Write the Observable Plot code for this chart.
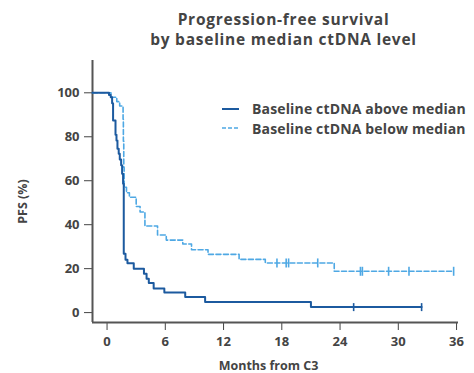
<!DOCTYPE html>
<html><head><meta charset="utf-8">
<script src="https://cdn.jsdelivr.net/npm/d3@7"></script>
<script src="https://cdn.jsdelivr.net/npm/@observablehq/plot@0.6"></script>
<style>
body{margin:0;background:#fff;}
#wrap{position:relative;width:474px;height:373px;}
#legend{position:absolute;left:222px;top:98.75px;font-family:"Open Sans",sans-serif;font-weight:bold;font-size:14px;letter-spacing:0.15px;color:#444;}
.row{display:flex;align-items:center;height:19.5px;white-space:nowrap;}
.row svg{margin-right:13px;display:block}
</style></head><body><div id="wrap"></div>
<script>
const titleLines = ["Progression-free survival", "by baseline median ctDNA level"];
const xLabel = "Months from C3";
const yLabel = "PFS (%)";
const seriesNames = ["Baseline ctDNA above median", "Baseline ctDNA below median"];
const xTicks = [0, 6, 12, 18, 24, 30, 36];
const yTicks = [0, 20, 40, 60, 80, 100];
const xDomain = [-1.5, 36.2];
const yDomain = [-4.5, 114.7];

const aboveMonths = [-1.5, 0.2, 0.38, 0.52, 0.62, 0.87, 0.97, 1.07, 1.2, 1.31, 1.45, 1.55, 1.65, 1.72, 1.9, 2.1, 2.75, 3.8, 4.07, 4.3, 4.8, 5.9, 8.05, 10.1, 21.0, 32.4];
const abovePFS    = [100, 99, 98, 95.3, 87.4, 80.9, 78.3, 74.5, 72.3, 69.7, 67, 63.2, 58.6, 26.8, 24, 22.5, 20, 17.7, 15.4, 13.5, 11.0, 9.2, 7.1, 4.8, 2.5, 2.5];
const aboveCensorMonths = [25.4, 32.4];
const aboveCensorPFS    = [2.5, 2.5];

const belowMonths = [-1.5, 0.4, 1.0, 1.3, 1.65, 1.68, 1.72, 1.76, 2.0, 2.3, 3.0, 3.4, 3.9, 5.2, 6.1, 7.8, 8.7, 10.4, 13.6, 16.3, 23.4, 35.7];
const belowPFS    = [100, 98, 96, 94, 88, 78, 66, 57, 54.5, 52.5, 48.3, 45.8, 39.4, 35.3, 33, 31.2, 28.6, 26.5, 24.2, 22.6, 18.8, 18.8];
const belowCensorMonths = [17.5, 18.45, 18.7, 21.7, 26.1, 26.3, 29.0, 31.1, 35.7];
const belowCensorPFS    = [22.6, 22.6, 22.6, 22.6, 18.8, 18.8, 18.8, 18.8, 18.8];

const darkBlue = "#1c5a9f";
const lightBlue = "#4ea8e4";
const textColor = "#444";
const axisColor = "#555";
const font = "'Open Sans', sans-serif";

const zip = (ts, ss) => ts.map((t, i) => ({t, s: ss[i]}));
const above = zip(aboveMonths, abovePFS);
const below = zip(belowMonths, belowPFS);
const aboveCens = zip(aboveCensorMonths, aboveCensorPFS);
const belowCens = zip(belowCensorMonths, belowCensorPFS);

const tickSymbol = {draw(ctx, size) { const h = Math.sqrt(size / Math.PI); ctx.moveTo(0, -h); ctx.lineTo(0, h); }};
const txt = {textAnchor: "middle", lineAnchor: "middle", fontWeight: "bold", fill: textColor};

const chart = Plot.plot({
  width: 474, height: 373,
  marginLeft: 92, marginRight: 16, marginTop: 60, marginBottom: 51,
  style: {fontFamily: font, fontSize: "13px", fontWeight: "bold", color: textColor, background: "#fff"},
  x: {domain: xDomain, ticks: xTicks, tickSize: 8, tickPadding: 6, label: null},
  y: {domain: yDomain, ticks: yTicks, tickSize: 8, tickPadding: 5, label: null},
  marks: [
    Plot.ruleX([xDomain[0]], {stroke: axisColor, strokeWidth: 2}),
    Plot.ruleY([yDomain[0]], {stroke: axisColor, strokeWidth: 2}),
    Plot.line(below, {x: "t", y: "s", curve: "step-after", stroke: lightBlue, strokeWidth: 1.6, strokeDasharray: "5,2.5"}),
    Plot.line(above, {x: "t", y: "s", curve: "step-after", stroke: darkBlue, strokeWidth: 2}),
    Plot.dot(belowCens, {x: "t", y: "s", symbol: tickSymbol, r: 4.5, fill: "none", stroke: lightBlue, strokeWidth: 1.6}),
    Plot.dot(aboveCens, {x: "t", y: "s", symbol: tickSymbol, r: 4, fill: "none", stroke: darkBlue, strokeWidth: 1.6}),
    Plot.text([titleLines[0]], {...txt, frameAnchor: "top", dx: 8, dy: -40, fontSize: 15.5}),
    Plot.text([titleLines[1]], {...txt, frameAnchor: "top", dx: 8, dy: -20, fontSize: 15.5}),
    Plot.text([xLabel], {...txt, frameAnchor: "bottom", dx: -7, dy: 43, fontSize: 12.5}),
    Plot.text([yLabel], {...txt, frameAnchor: "left", dx: -70, dy: 10, rotate: -90, fontSize: 12.5})
  ]
});
d3.select(chart).selectAll("text").filter(function() { return titleLines.includes(this.textContent); })
  .style("letter-spacing", "0.75px");
const wrap = document.getElementById("wrap");
wrap.appendChild(chart);

const legend = document.createElement("div");
legend.id = "legend";
const styles = [{stroke: darkBlue, w: 2, dash: null}, {stroke: lightBlue, w: 1.6, dash: "4,2"}];
seriesNames.forEach((name, i) => {
  const row = document.createElement("div");
  row.className = "row";
  const sw = d3.create("svg").attr("width", 17).attr("height", 4);
  const ln = sw.append("line").attr("x1", 0).attr("x2", 17).attr("y1", 2).attr("y2", 2)
    .attr("stroke", styles[i].stroke).attr("stroke-width", styles[i].w);
  if (styles[i].dash) ln.attr("stroke-dasharray", styles[i].dash);
  row.appendChild(sw.node());
  const span = document.createElement("span");
  span.textContent = name;
  row.appendChild(span);
  legend.appendChild(row);
});
wrap.appendChild(legend);
</script></body></html>
